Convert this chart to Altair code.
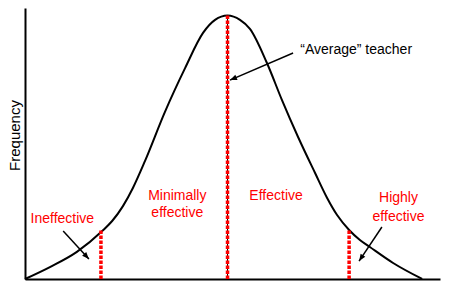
import math
import altair as alt
import pandas as pd

# Bell curve (x: effectiveness, y: frequency; both 0-100)
curve_x = [0, 6.0, 12.5, 18.6, 21.0, 23.6, 26.0, 28.9, 33.7, 38.6, 42.9, 45.8, 48.8,
           51.8, 54.2, 58.3, 61.9, 65.8, 69.9, 72.8, 75.2, 78.1, 80.7, 83.1, 88.7, 95.7]
curve_y = [0, 4.4, 10.0, 17.7, 21.4, 26.9, 33.6, 43.5, 61.6, 77.9, 90.8, 95.6, 97.2,
           95.6, 92.3, 79.7, 66.1, 52.4, 39.1, 29.9, 23.6, 18.1, 14.4, 11.8, 5.9, 0]

# Red dashed cut-off lines
cut_x = [18.3, 48.8, 78.1]
cut_top = [17.9, 97.2, 18.1]

# Red category labels (one row per text line)
label_text = ["Ineffective", "Minimally", "effective", "Effective", "Highly", "effective"]
label_x = [9.0, 36.7, 36.7, 60.5, 90.0, 90.0]
label_y = [22.1, 30.6, 24.4, 30.6, 29.9, 22.9]

# Black annotation
note_text = ["\u201cAverage\u201d teacher"]
note_x = [79.8]
note_y = [84.5]

# Arrows (start -> tip)
arrow_x1 = [9.2, 86.0, 64.6]
arrow_y1 = [17.7, 19.2, 83.4]
arrow_x2 = [15.4, 80.5, 49.4]
arrow_y2 = [7.4, 6.6, 73.4]

W, H = 415, 271
XMAX, YMAX = 100, 100

curve_df = pd.DataFrame({"x": curve_x, "y": curve_y})
cut_df = pd.DataFrame({"x": cut_x, "top": cut_top, "base": [0] * len(cut_x)})
label_df = pd.DataFrame({"text": label_text, "x": label_x, "y": label_y})
note_df = pd.DataFrame({"text": note_text, "x": note_x, "y": note_y})

angles = []
for a, b, c, d in zip(arrow_x1, arrow_y1, arrow_x2, arrow_y2):
    dxp = (c - a) * W / XMAX
    dyp = -(d - b) * H / YMAX
    angles.append(math.degrees(math.atan2(dxp, -dyp)) % 360)
arrow_df = pd.DataFrame({"x1": arrow_x1, "y1": arrow_y1, "x2": arrow_x2,
                         "y2": arrow_y2, "ang": angles})

xs = alt.Scale(domain=[0, XMAX], nice=False, zero=False)
ys = alt.Scale(domain=[0, YMAX], nice=False, zero=False)
xaxis = alt.Axis(title=None, ticks=False, labels=False, grid=False, domain=True)
yaxis = alt.Axis(title="Frequency", ticks=False, labels=False, grid=False, domain=True,
                 titleY=127)

def X(f):
    return alt.X(f, scale=xs, axis=xaxis)

def Y(f):
    return alt.Y(f, scale=ys, axis=yaxis)

curve = alt.Chart(curve_df).mark_line(
    color="black", strokeWidth=2, interpolate="monotone"
).encode(x=X("x:Q"), y=Y("y:Q"))

cut_under = alt.Chart(cut_df).transform_filter("datum.top > 50").mark_rule(
    color="black", strokeWidth=1
).encode(x=X("x:Q"), y=Y("base:Q"), y2="top:Q")

cuts = alt.Chart(cut_df).mark_rule(
    color="#ff0000", strokeWidth=3.5, strokeDash=[3.5, 1.5]
).encode(x=X("x:Q"), y=Y("base:Q"), y2="top:Q")

shafts = alt.Chart(arrow_df).mark_rule(color="black", strokeWidth=1.5).encode(
    x=X("x1:Q"), y=Y("y1:Q"), x2="x2:Q", y2="y2:Q"
)

heads = alt.Chart(arrow_df).mark_point(
    shape="M0,0 L-0.4,1 L0.4,1 Z", filled=True, color="black", size=196,
    opacity=1, strokeWidth=0
).encode(x=X("x2:Q"), y=Y("y2:Q"), angle=alt.Angle("ang:Q", scale=None))

labels = alt.Chart(label_df).mark_text(
    font="Liberation Sans", fontSize=14, color="#ff0000", align="center",
    baseline="middle"
).encode(x=X("x:Q"), y=Y("y:Q"), text="text:N")

note = alt.Chart(note_df).mark_text(
    font="Liberation Sans", fontSize=14, color="black", align="center",
    baseline="middle"
).encode(x=X("x:Q"), y=Y("y:Q"), text="text:N")

chart = alt.layer(curve, cut_under, cuts, shafts, heads, labels, note).properties(
    width=W, height=H,
    padding={"left": 25, "top": 8, "right": 35, "bottom": 18},
    autosize=alt.AutoSizeParams(type="none"),
    background="white",
).configure_view(stroke=None).configure_axis(
    domainColor="black", domainWidth=2, titleFont="Liberation Sans",
    titleFontSize=15, titleFontWeight="normal", titleColor="black", titlePadding=3
)

chart.save("out.html", embed_options={"renderer": "svg", "actions": False})
